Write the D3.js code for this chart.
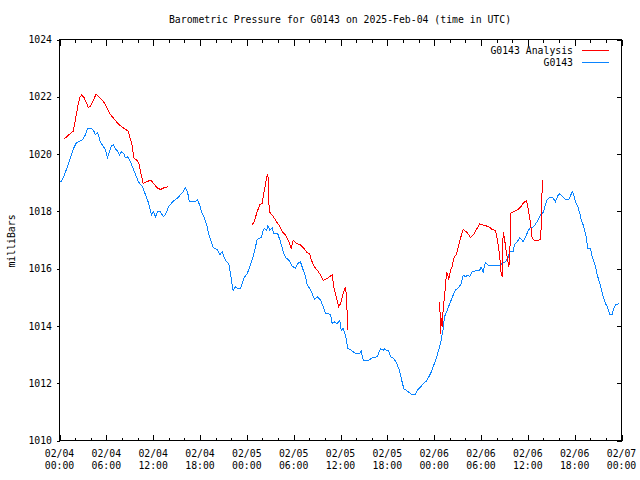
<!DOCTYPE html>
<html><head><meta charset="utf-8">
<script src="https://cdn.jsdelivr.net/npm/d3@7"></script>
<style>
body{margin:0;background:#fff}
text{font-family:"DejaVu Sans Mono","Liberation Mono",monospace;font-size:9.8px;fill:#000}
</style></head><body>
<svg id="c" width="640" height="480"></svg>
<script>
// ---- data (hours since 2025-02-04 00:00 UTC, millibars) ----
const chartTitle = "Barometric Pressure for G0143 on 2025-Feb-04 (time in UTC)";
const yLabel = "milliBars";
const seriesNames = ["G0143 Analysis", "G0143"];
const yTicks = [1010, 1012, 1014, 1016, 1018, 1020, 1022, 1024];

const g0143 = [
[0.15,1019.02],[0.51,1019.20],[0.77,1019.38],[1.02,1019.56],[1.41,1019.87],[1.79,1020.19],[2.18,1020.40],[2.69,1020.47],[2.95,1020.50],[3.33,1020.68],
[3.59,1020.90],[4.10,1020.90],[4.36,1020.82],[4.61,1020.68],[4.87,1020.75],[5.12,1020.54],[5.25,1020.40],[5.64,1020.26],[5.89,1020.15],[6.15,1019.87],
[6.41,1020.08],[6.66,1020.29],[6.92,1020.33],[7.17,1020.19],[7.56,1020.05],[7.69,1019.98],[7.94,1020.08],[8.20,1020.03],[8.46,1019.87],[8.71,1019.91],
[8.97,1019.80],[9.35,1019.56],[9.74,1019.28],[10.12,1019.03],[10.63,1018.86],[11.02,1018.58],[11.40,1018.30],[11.79,1017.88],[12.04,1017.98],[12.30,1017.81],
[12.55,1017.98],[12.94,1017.98],[13.32,1017.81],[13.58,1017.88],[13.96,1018.16],[14.48,1018.33],[15.12,1018.47],[15.76,1018.65],[16.14,1018.82],[16.40,1018.68],
[16.65,1018.33],[17.29,1018.33],[17.68,1018.40],[17.94,1018.23],[18.28,1017.93],[18.58,1017.76],[18.92,1017.47],[19.13,1017.18],[19.43,1016.94],[19.69,1016.74],
[20.20,1016.67],[20.54,1016.48],[20.84,1016.59],[21.05,1016.42],[21.39,1016.24],[21.69,1016.18],[21.91,1015.83],[22.12,1015.43],[22.25,1015.23],[22.55,1015.37],
[22.84,1015.31],[23.19,1015.31],[23.61,1015.66],[24.05,1015.83],[24.47,1016.13],[24.82,1016.42],[25.11,1016.77],[25.33,1017.02],[25.84,1017.09],[26.10,1017.33],
[26.26,1017.41],[26.52,1017.33],[26.69,1017.49],[26.94,1017.35],[27.25,1017.41],[27.45,1017.21],[27.97,1017.21],[28.31,1016.94],[28.66,1016.59],[28.95,1016.39],
[29.38,1016.30],[29.81,1016.09],[30.23,1016.01],[30.53,1016.18],[30.87,1016.24],[31.22,1015.95],[31.52,1015.72],[31.73,1015.43],[32.07,1015.31],[32.37,1015.13],
[32.67,1014.92],[33.01,1015.02],[33.44,1014.90],[33.78,1014.67],[34.08,1014.43],[34.72,1014.41],[34.94,1014.08],[35.23,1014.14],[35.58,1014.08],[35.91,1014.20],
[36.09,1013.83],[36.34,1013.91],[36.51,1013.79],[36.77,1013.50],[36.93,1013.21],[37.37,1013.15],[37.79,1013.06],[38.47,1013.03],[38.65,1013.13],[38.91,1012.80],
[39.62,1012.80],[40.06,1012.89],[40.70,1012.92],[41.12,1013.21],[41.47,1013.15],[41.67,1013.21],[41.89,1013.13],[42.19,1013.13],[42.40,1012.92],[42.83,1012.86],
[43.17,1012.71],[43.47,1012.51],[43.69,1012.28],[43.90,1012.04],[44.11,1011.81],[44.75,1011.69],[45.06,1011.61],[45.61,1011.61],[45.90,1011.77],[46.16,1011.84],
[46.59,1011.98],[47.02,1012.08],[47.31,1012.22],[47.62,1012.39],[47.95,1012.63],[48.30,1012.89],[48.59,1013.17],[48.90,1013.50],[49.16,1013.91],[49.32,1014.32],
[49.67,1014.55],[50.00,1014.78],[50.44,1015.08],[50.73,1015.25],[51.15,1015.34],[51.46,1015.48],[51.72,1015.78],[52.01,1015.72],[52.31,1015.78],[52.56,1015.72],
[52.87,1015.89],[53.29,1015.92],[53.84,1015.95],[54.02,1016.05],[54.28,1015.89],[54.57,1016.21],[54.87,1016.13],[55.43,1016.11],[56.50,1016.11],[56.71,1016.21],
[57.14,1016.24],[57.43,1016.36],[57.69,1016.59],[58.12,1016.59],[58.29,1016.83],[58.64,1016.94],[58.97,1017.09],[59.40,1016.94],[59.70,1017.09],[59.99,1017.29],
[60.25,1017.41],[60.76,1017.47],[61.20,1017.64],[61.62,1017.88],[61.97,1017.96],[62.26,1018.23],[62.48,1018.42],[62.90,1018.49],[63.25,1018.46],[63.54,1018.34],
[63.84,1018.54],[64.09,1018.61],[64.40,1018.54],[64.82,1018.42],[65.25,1018.42],[65.46,1018.54],[65.68,1018.69],[65.89,1018.58],[66.10,1018.34],[66.40,1018.17],
[66.66,1017.93],[66.84,1017.70],[67.09,1017.53],[67.26,1017.35],[67.51,1017.06],[67.68,1016.69],[68.03,1016.69],[68.24,1016.42],[68.45,1016.24],[68.67,1016.07],
[68.89,1015.78],[69.22,1015.48],[69.40,1015.31],[69.65,1015.02],[69.95,1014.78],[70.17,1014.67],[70.50,1014.41],[70.81,1014.41],[71.01,1014.61],[71.23,1014.73],
[71.65,1014.78]
];

const analysisRun1 = [
[0.64,1020.54],[1.19,1020.67],[1.76,1020.80],[2.05,1021.21],[2.34,1021.66],[2.60,1021.98],[2.82,1022.06],[3.11,1021.99],[3.68,1021.64],[3.97,1021.66],
[4.70,1022.10],[5.47,1021.89],[5.89,1021.73],[6.53,1021.38],[6.96,1021.24],[7.60,1021.03],[8.03,1020.94],[8.80,1020.80],[8.97,1020.63],[9.31,1020.30],
[9.52,1019.87],[9.86,1019.79],[10.16,1019.70],[10.38,1019.40],[10.72,1018.97],[11.15,1019.03],[11.66,1019.09],[12.08,1018.97],[12.52,1018.82],[12.94,1018.76],
[13.36,1018.82],[13.87,1018.86]
];
const analysisRun2 = [
[24.69,1017.55],[24.89,1017.61],[25.33,1017.99],[25.66,1018.23],[25.97,1018.28],[26.17,1018.63],[26.39,1018.93],[26.52,1019.16],[26.69,1019.31],[26.81,1018.63],
[26.86,1017.99],[27.38,1017.82],[27.80,1017.64],[28.09,1017.53],[28.53,1017.29],[28.95,1017.18],[29.38,1016.94],[29.68,1016.71],[29.94,1017.00],[30.36,1016.88],
[30.87,1016.83],[31.30,1016.71],[31.73,1016.56],[32.07,1016.51],[32.25,1016.32],[32.58,1016.09],[33.01,1015.95],[33.44,1015.78],[33.78,1015.58],[34.30,1015.66],
[34.72,1015.74],[34.94,1015.78],[35.14,1015.37],[35.49,1014.96],[35.78,1014.67],[36.00,1014.78],[36.34,1015.13],[36.64,1015.37],[36.77,1015.02],[36.93,1013.85]
];
const analysisRun3 = [
[48.72,1014.84],[48.81,1013.73],[48.94,1014.26],[49.03,1013.97],[49.16,1014.61],[49.32,1015.02],[49.45,1015.37],[49.58,1015.89],[49.75,1015.78],[49.87,1015.62],
[50.09,1015.95],[50.31,1016.07],[50.51,1016.36],[50.86,1016.51],[51.15,1016.83],[51.37,1017.06],[51.72,1017.37],[52.23,1017.26],[52.65,1017.09],[53.08,1017.21],
[53.51,1017.41],[53.84,1017.56],[54.35,1017.51],[54.99,1017.47],[55.43,1017.37],[55.85,1017.33],[56.14,1016.94],[56.40,1016.42],[56.58,1015.83],[56.71,1015.72],
[56.84,1017.29],[57.01,1017.06],[57.14,1016.77],[57.27,1016.53],[57.43,1016.30],[57.56,1016.07],[57.69,1016.30],[57.78,1017.93],[58.20,1017.99],[58.64,1018.05],
[59.06,1018.14],[59.48,1018.31],[59.83,1018.38],[59.99,1018.17],[60.25,1017.76],[60.56,1017.06],[60.76,1017.00],[61.20,1016.98],[61.62,1017.02],[61.71,1017.47],
[61.84,1018.87],[61.92,1019.10]
];

// ---- drawing ----
const svg = d3.select("#c");
const L = 59.5, R = 621.5, T = 39.5, B = 440.5;
const t0 = Date.UTC(2025, 1, 4);
const toDate = h => new Date(t0 + h * 3600e3);
const x = d3.scaleUtc().domain([toDate(0), toDate(72)]).range([L, R]);
const y = d3.scaleLinear().domain([1010, 1024]).range([B, T]);

const majorX = d3.utcHour.every(6).range(toDate(0), toDate(72.01));
const minorX = d3.utcHour.every(2).range(toDate(0), toDate(72.01)).filter(d => d.getUTCHours() % 6 !== 0);

function tickG(axis, tr) {
  const g = svg.append("g").attr("transform", tr).call(axis);
  g.select(".domain").remove();
  g.selectAll("line").attr("stroke", "#000").attr("shape-rendering", "crispEdges");
  g.selectAll("text").remove();
  return g;
}
// bottom and top x ticks (inward)
tickG(d3.axisBottom(x).tickValues(majorX).tickSize(-6).tickSizeOuter(0), `translate(0,${B})`);
tickG(d3.axisBottom(x).tickValues(minorX).tickSize(-3).tickSizeOuter(0), `translate(0,${B})`);
tickG(d3.axisTop(x).tickValues(majorX).tickSize(-6).tickSizeOuter(0), `translate(0,${T})`);
tickG(d3.axisTop(x).tickValues(minorX).tickSize(-3).tickSizeOuter(0), `translate(0,${T})`);
// y ticks
tickG(d3.axisLeft(y).tickValues(yTicks).tickSize(3).tickSizeOuter(0), `translate(${L},0)`);
tickG(d3.axisRight(y).tickValues(yTicks).tickSize(-5).tickSizeOuter(0), `translate(${R},0)`);

// border
svg.append("rect").attr("x", L).attr("y", T).attr("width", R - L).attr("height", B - T)
  .attr("fill", "none").attr("stroke", "#000").attr("shape-rendering", "crispEdges");

// y labels
svg.append("g").selectAll("text").data(yTicks).join("text")
  .attr("x", 52).attr("y", d => y(d) + 3.6).attr("text-anchor", "end").text(d => d);

// x labels (two lines)
const fmtD = d3.utcFormat("%m/%d"), fmtT = d3.utcFormat("%H:%M");
const xl = svg.append("g").selectAll("text").data(majorX).join("text")
  .attr("text-anchor", "middle");
xl.append("tspan").attr("x", d => x(d)).attr("y", 456.5).text(d => fmtD(d));
xl.append("tspan").attr("x", d => x(d)).attr("y", 469).text(d => fmtT(d));

// title and axis label
svg.append("text").attr("x", 340).attr("y", 23).attr("text-anchor", "middle").text(chartTitle);
svg.append("text").attr("transform", "translate(15,241) rotate(-90)").attr("text-anchor", "middle").text(yLabel);

// lines
const line = d3.line().x(d => x(toDate(d[0]))).y(d => y(d[1]));
const RED = "#ff0000", BLUE = "#0a84ff";
svg.append("path").datum(g0143).attr("d", line).attr("fill", "none").attr("stroke", BLUE)
  .attr("stroke-width", 1).attr("shape-rendering", "crispEdges");
[analysisRun1, analysisRun2, analysisRun3].forEach(run => {
  svg.append("path").datum(run).attr("d", line).attr("fill", "none").attr("stroke", RED)
    .attr("stroke-width", 1).attr("shape-rendering", "crispEdges");
});

// legend
const legend = [{name: seriesNames[0], color: RED, yy: 50.5}, {name: seriesNames[1], color: BLUE, yy: 62.5}];
legend.forEach(l => {
  svg.append("text").attr("x", 573).attr("y", l.yy + 3.6).attr("text-anchor", "end").text(l.name);
  svg.append("line").attr("x1", 582).attr("x2", 609).attr("y1", l.yy).attr("y2", l.yy)
    .attr("stroke", l.color).attr("shape-rendering", "crispEdges");
});
</script></body></html>
